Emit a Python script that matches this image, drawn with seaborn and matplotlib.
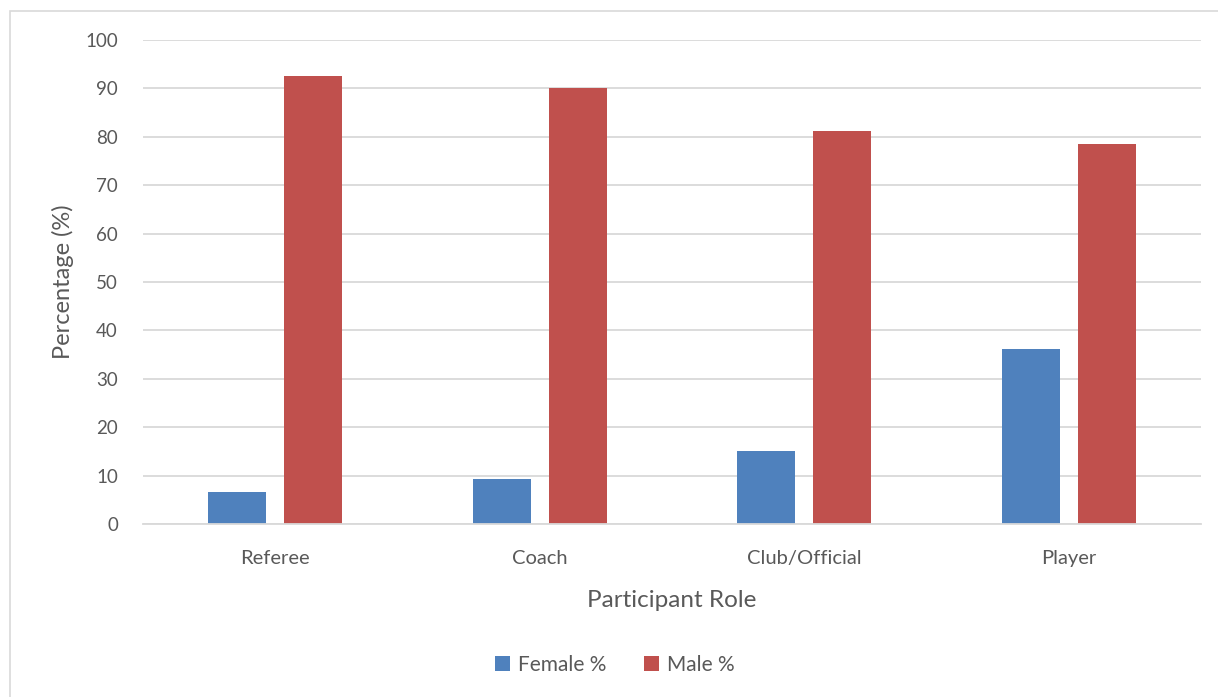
import pandas as pd
import matplotlib.pyplot as plt
import seaborn as sns
from matplotlib.patches import Rectangle

roles = ['Referee', 'Coach', 'Club/Official', 'Player']
female_pct = [6.7, 9.3, 15.1, 36.2]
male_pct = [92.6, 90.0, 81.2, 78.6]
series = ['Female %', 'Male %']
colors = ['#4F81BD', '#C0504D']

df = pd.DataFrame({
    'Role': roles * 2,
    'Series': [series[0]] * len(roles) + [series[1]] * len(roles),
    'Value': female_pct + male_pct,
})

sns.set_style('white')
plt.rcParams['font.family'] = ['Lato', 'DejaVu Sans']
text_col = '#595959'
grid_col = '#D9D9D9'

fig = plt.figure(figsize=(12.18, 6.97), dpi=100)
ax = fig.add_axes([143 / 1218, 1 - 524 / 697, (1201 - 143) / 1218, (524 - 40) / 697])

sns.barplot(data=df, x='Role', y='Value', hue='Series', order=roles,
            hue_order=series, palette=colors, width=0.576, gap=0.236,
            saturation=1, linewidth=0, ax=ax, legend=True)

ax.set_ylim(0, 100)
ax.set_xlim(-0.5, len(roles) - 0.5)
ax.set_yticks(range(0, 101, 10))
ax.yaxis.grid(True, color=grid_col, linewidth=1.3)
ax.set_axisbelow(True)
for side in ['top', 'right', 'left']:
    ax.spines[side].set_visible(False)
ax.spines['bottom'].set_color(grid_col)
ax.spines['bottom'].set_linewidth(1.3)
ax.tick_params(axis='both', length=0, colors=text_col)
ax.tick_params(axis='y', pad=18, labelsize=13.5)
ax.tick_params(axis='x', pad=19, labelsize=14.5)

ax.set_ylabel('Percentage (%)', fontsize=17, color=text_col, labelpad=8)
ax.set_xlabel('Participant Role', fontsize=17.5, color=text_col, labelpad=16)

handles, labels = ax.get_legend_handles_labels()
ax.legend_.remove()
fig.legend(handles, labels, loc='center', bbox_to_anchor=(615 / 1218, 1 - 665 / 697),
           ncol=2, frameon=False, fontsize=15, labelcolor=text_col,
           handlelength=0.7, handleheight=0.7, handletextpad=0.4, columnspacing=1.8)

# chart area border
fig.patches.append(Rectangle((10 / 1218, -0.02), 1.0, 1 - 11 / 697 + 0.02,
                             transform=fig.transFigure, fill=False,
                             edgecolor=grid_col, linewidth=1.2))

fig.savefig('out.png', dpi=100)
